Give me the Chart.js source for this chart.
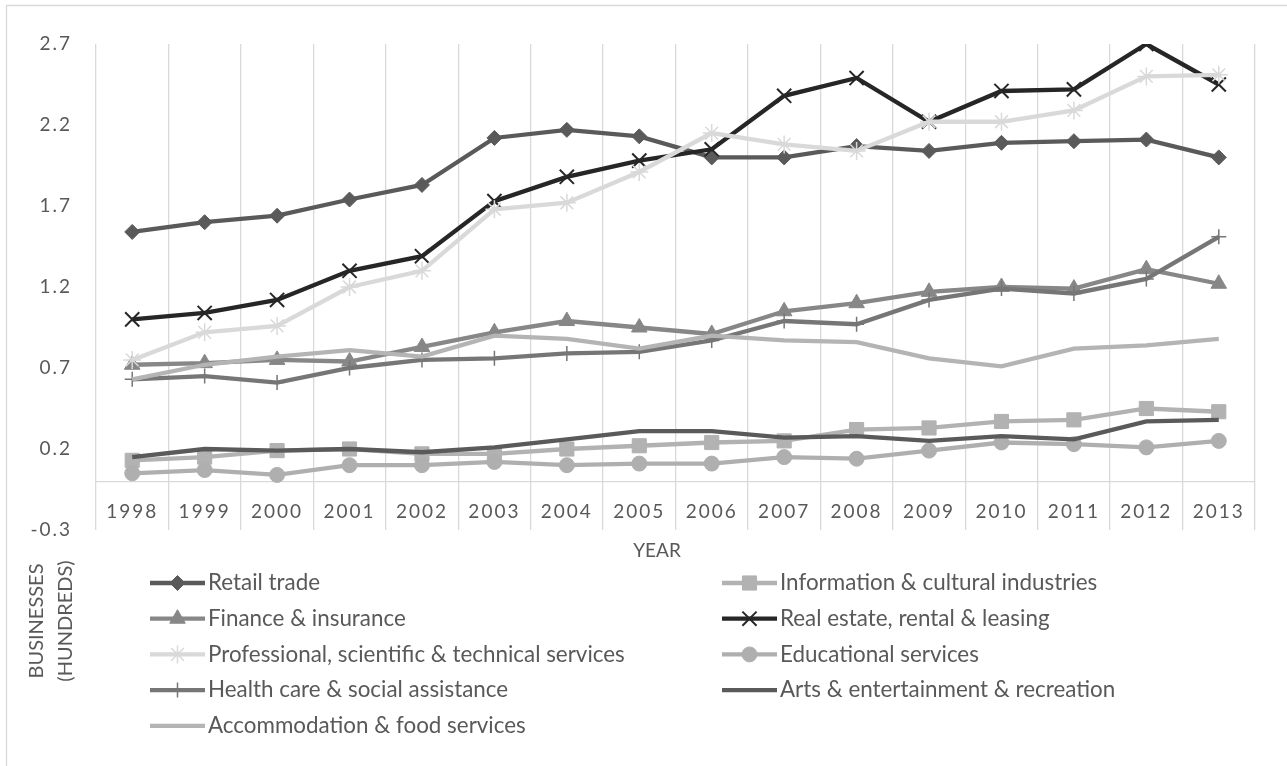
<!DOCTYPE html>
<html>
<head>
<meta charset="utf-8">
<title>Businesses by industry, 1998-2013</title>
<script src="https://cdn.jsdelivr.net/npm/chart.js@4/dist/chart.umd.min.js"></script>
<style>
  html, body { margin: 0; padding: 0; background: #fff; }
  #chart { display: block; }
</style>
</head>
<body>
<canvas id="chart" width="1287" height="766"></canvas>
<script>
// years on the category axis
const years = ["1998","1999","2000","2001","2002","2003","2004","2005","2006","2007","2008","2009","2010","2011","2012","2013"];

// businesses (hundreds) per industry
const retailTrade     = [1.54,1.60,1.64,1.74,1.83,2.12,2.17,2.13,2.00,2.00,2.07,2.04,2.09,2.10,2.11,2.00];
const infoCultural    = [0.13,0.15,0.19,0.20,0.17,0.17,0.20,0.22,0.24,0.25,0.32,0.33,0.37,0.38,0.45,0.43];
const financeIns      = [0.72,0.73,0.75,0.74,0.83,0.92,0.99,0.95,0.91,1.05,1.10,1.17,1.20,1.19,1.31,1.22];
const realEstate      = [1.00,1.04,1.12,1.30,1.39,1.73,1.88,1.98,2.05,2.38,2.49,2.22,2.41,2.42,2.70,2.45];
const professional    = [0.75,0.92,0.96,1.20,1.30,1.68,1.72,1.91,2.15,2.08,2.04,2.22,2.22,2.29,2.50,2.51];
const educational     = [0.05,0.07,0.04,0.10,0.10,0.12,0.10,0.11,0.11,0.15,0.14,0.19,0.24,0.23,0.21,0.25];
const healthCare      = [0.63,0.65,0.61,0.70,0.75,0.76,0.79,0.80,0.87,0.99,0.97,1.12,1.19,1.16,1.25,1.51];
const artsRecreation  = [0.15,0.20,0.19,0.20,0.18,0.21,0.26,0.31,0.31,0.27,0.28,0.25,0.28,0.26,0.37,0.38];
const accommodation   = [0.63,0.72,0.77,0.81,0.77,0.90,0.88,0.82,0.90,0.87,0.86,0.76,0.71,0.82,0.84,0.88];

// y axis tick values
const yTicks = [-0.3, 0.2, 0.7, 1.2, 1.7, 2.2, 2.7];

const FONT = "Lato, 'Open Sans', sans-serif";
const TEXT = "#595959";
const GRID = "#d9d9d9";

// label, values, colour, marker, marker radius, marker stroke
const series = [
  ["Retail trade", retailTrade, "#5a5a5a", "rectRot", 7.5, 1],
  ["Information & cultural industries", infoCultural, "#b2b2b2", "rect", 10, 1],
  ["Finance & insurance", financeIns, "#878787", "triangle", 9, 1],
  ["Real estate, rental & leasing", realEstate, "#262626", "crossRot", 10, 2],
  ["Professional, scientific & technical services", professional, "#d9d9d9", "star", 9, 1.5],
  ["Educational services", educational, "#afafaf", "circle", 7.5, 1],
  ["Health care & social assistance", healthCare, "#767676", "cross", 7.5, 1.5],
  ["Arts & entertainment & recreation", artsRecreation, "#5a5a5a", false, 0, 0],
  ["Accommodation & food services", accommodation, "#b4b4b4", false, 0, 0]
];

const datasets = series.map(([label, data, color, style, r, bw], i) => ({
  label,
  data,
  borderColor: color,
  backgroundColor: color,
  borderWidth: 4.3,
  tension: 0,
  pointStyle: style || "circle",
  pointRadius: r,
  pointBorderWidth: bw,
  pointBorderColor: color,
  pointBackgroundColor: color,
  order: -i          // later series sit on top
}));

// border, axis titles and a two-column legend
const decorations = {
  id: "decorations",
  beforeDraw(chart) {
    chart.ctx.letterSpacing = "2px";
  },
  afterDraw(chart) {
    const ctx = chart.ctx;
    ctx.save();
    ctx.letterSpacing = "0px";

    // outer frame
    ctx.strokeStyle = GRID;
    ctx.lineWidth = 1.3;
    ctx.beginPath();
    ctx.moveTo(6.5, 800);
    ctx.lineTo(6.5, 5.5);
    ctx.lineTo(1300, 5.5);
    ctx.stroke();

    ctx.fillStyle = TEXT;
    ctx.font = "19px " + FONT;
    ctx.textAlign = "center";
    ctx.textBaseline = "middle";
    ctx.fillText("YEAR", 657, 551);

    ctx.save();
    ctx.font = "20px " + FONT;
    ctx.translate(37, 621);
    ctx.rotate(-Math.PI / 2);
    ctx.fillText("BUSINESSES", 0, 0);
    ctx.fillText("(HUNDREDS)", 0, 29);
    ctx.restore();

    // legend
    ctx.textAlign = "left";
    ctx.font = "22.4px " + FONT;
    const colX = [150, 722];
    chart.data.datasets.forEach((ds, i) => {
      const x0 = colX[i % 2];
      const y = 583 + Math.floor(i / 2) * 35.7;
      ctx.strokeStyle = ds.borderColor;
      ctx.lineWidth = 4.3;
      ctx.beginPath();
      ctx.moveTo(x0, y);
      ctx.lineTo(x0 + 55, y);
      ctx.stroke();
      if (ds.pointRadius > 0 && Chart.helpers && Chart.helpers.drawPoint) {
        ctx.fillStyle = ds.pointBackgroundColor;
        ctx.strokeStyle = ds.pointBorderColor;
        ctx.lineWidth = ds.pointBorderWidth;
        Chart.helpers.drawPoint(ctx, {
          pointStyle: ds.pointStyle, rotation: 0,
          radius: ds.pointRadius, borderWidth: ds.pointBorderWidth
        }, x0 + 27.5, y);
      }
      ctx.fillStyle = TEXT;
      ctx.fillText(ds.label, x0 + 58, y);
    });
    ctx.restore();
  }
};

new Chart(document.getElementById("chart"), {
  type: "line",
  data: { labels: years, datasets },
  options: {
    responsive: false,
    animation: false,
    events: [],
    layout: { padding: { left: 0, top: 44, right: 32, bottom: 236 } },
    plugins: { legend: { display: false }, tooltip: { enabled: false } },
    scales: {
      x: {
        type: "category",
        position: { y: 0 },
        offset: true,
        grid: { offset: true, color: GRID, lineWidth: 1.3, drawTicks: false },
        border: { color: GRID, width: 1.3 },
        ticks: { color: TEXT, font: { family: FONT, size: 19 }, padding: 19, maxRotation: 0, autoSkip: false }
      },
      y: {
        min: -0.3,
        max: 2.7,
        afterBuildTicks: s => { s.ticks = yTicks.map(v => ({ value: v })); },
        afterFit: s => { s.width = 96; },
        grid: { display: false, drawTicks: false },
        border: { display: false },
        ticks: { color: TEXT, font: { family: FONT, size: 19 }, padding: 24, callback: v => Number(v).toFixed(1) }
      }
    }
  },
  plugins: [decorations]
});
</script>
</body>
</html>
